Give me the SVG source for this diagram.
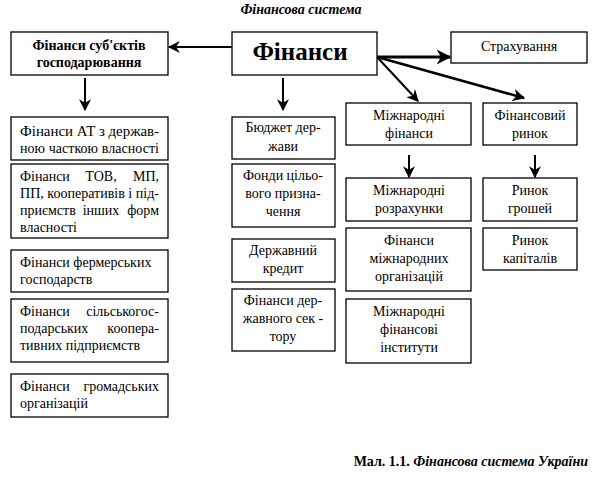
<svg xmlns="http://www.w3.org/2000/svg" width="594" height="483" viewBox="0 0 594 483">
<defs>
<style>
text{font-family:"Liberation Serif","Times New Roman",serif}
.box{fill:#fff;stroke:#000;stroke-width:1.3}
.t{font-size:14px;fill:#000}
.c{text-anchor:middle}
.e{text-anchor:end}
.b{font-weight:bold}
.bi{font-weight:bold;font-style:italic}
.ln{stroke:#000;stroke-width:2;fill:none}
</style>
<marker id="ah" viewBox="0 0 10 10" refX="9" refY="5" markerWidth="6" markerHeight="6" orient="auto" markerUnits="strokeWidth">
<path d="M0,0 L10,5 L0,10 L3,5 z" fill="#000"/>
</marker>
<marker id="ah3" viewBox="0 0 10 10" refX="9" refY="5" markerWidth="5" markerHeight="5" orient="auto" markerUnits="strokeWidth">
<path d="M0,0 L10,5 L0,10 L3,5 z" fill="#000"/>
</marker>
</defs>
<rect width="594" height="483" fill="#fff"/>
<text class="t bi c" x="301" y="14">Фінансова система</text>

<g id="connectors">
<line class="ln" x1="232" y1="47" x2="169" y2="47" marker-end="url(#ah)"/>
<line class="ln" x1="377" y1="57" x2="450" y2="57" marker-end="url(#ah3)" style="stroke-width:3"/>
<line class="ln" x1="377" y1="57" x2="418" y2="101" marker-end="url(#ah)"/>
<line class="ln" x1="377" y1="57" x2="524" y2="98" marker-end="url(#ah3)" style="stroke-width:2.5"/>
<line class="ln" x1="85" y1="78" x2="85" y2="110" marker-end="url(#ah)"/>
<line class="ln" x1="283" y1="78" x2="283" y2="110" marker-end="url(#ah)"/>
<line class="ln" x1="409" y1="155" x2="409" y2="177" marker-end="url(#ah)"/>
<line class="ln" x1="535" y1="155" x2="535" y2="177" marker-end="url(#ah)"/>
</g>

<g id="n-subj"><rect class="box" x="11" y="32" width="157" height="43"/>
<text class="t b c" x="89" y="50">Фінанси суб'єктів</text>
<text class="t b c" x="89" y="67">господарювання</text></g>

<g id="n-fin"><rect class="box" x="232" y="32" width="145" height="43"/>
<text class="t b c" x="300" y="60" style="font-size:25px">Фінанси</text></g>

<g id="n-strah"><rect class="box" x="451" y="32" width="136" height="31"/>
<text class="t c" x="519" y="51">Страхування</text></g>

<g id="n-l1"><rect class="box" x="11" y="117" width="157" height="43"/>
<text class="t" x="20" y="136" textLength="139" lengthAdjust="spacingAndGlyphs">Фінанси АТ з держав-</text>
<text class="t" x="20" y="153" textLength="139" lengthAdjust="spacing">ною часткою власності</text></g>

<g id="n-l2"><rect class="box" x="11" y="164" width="157" height="74"/>
<text class="t" x="20" y="181">Фінанси</text><text class="t c" x="101" y="181">ТОВ,</text><text class="t e" x="159" y="181">МП,</text>
<text class="t" x="20" y="198" textLength="139" lengthAdjust="spacingAndGlyphs">ПП, кооперативів і під-</text>
<text class="t" x="20" y="215">приємств</text><text class="t c" x="101" y="215">інших</text><text class="t e" x="159" y="215">форм</text>
<text class="t" x="20" y="232">власності</text></g>

<g id="n-l3"><rect class="box" x="11" y="250" width="157" height="42"/>
<text class="t" x="20" y="267">Фінанси фермерських</text>
<text class="t" x="20" y="284">господарств</text></g>

<g id="n-l4"><rect class="box" x="11" y="299" width="157" height="63"/>
<text class="t" x="20" y="316">Фінанси</text><text class="t e" x="159" y="316">сільськогос-</text>
<text class="t" x="20" y="333">подарських</text><text class="t e" x="159" y="333">коопера-</text>
<text class="t" x="20" y="350">тивних підприємств</text></g>

<g id="n-l5"><rect class="box" x="11" y="374" width="157" height="43"/>
<text class="t" x="20" y="391">Фінанси</text><text class="t e" x="159" y="391">громадських</text>
<text class="t" x="20" y="408">організацій</text></g>

<g id="n-m1"><rect class="box" x="232" y="117" width="103" height="42"/>
<text class="t c" x="283" y="132">Бюджет дер-</text>
<text class="t c" x="283" y="151">жави</text></g>

<g id="n-m2"><rect class="box" x="232" y="164" width="103" height="63"/>
<text class="t c" x="283" y="180">Фонди цільо-</text>
<text class="t c" x="283" y="198">вого призна-</text>
<text class="t c" x="283" y="216">чення</text></g>

<g id="n-m3"><rect class="box" x="232" y="239" width="103" height="43"/>
<text class="t c" x="283" y="255">Державний</text>
<text class="t c" x="283" y="273">кредит</text></g>

<g id="n-m4"><rect class="box" x="232" y="289" width="103" height="62"/>
<text class="t c" x="283" y="305">Фінанси дер-</text>
<text class="t c" x="283" y="323">жавного сек -</text>
<text class="t c" x="283" y="341">тору</text></g>

<g id="n-r1"><rect class="box" x="346" y="103" width="125" height="42"/>
<text class="t c" x="409" y="120">Міжнародні</text>
<text class="t c" x="409" y="138">фінанси</text></g>

<g id="n-r2"><rect class="box" x="483" y="103" width="94" height="42"/>
<text class="t c" x="530" y="120">Фінансовий</text>
<text class="t c" x="530" y="138">ринок</text></g>

<g id="n-r3"><rect class="box" x="346" y="178" width="125" height="43"/>
<text class="t c" x="409" y="195">Міжнародні</text>
<text class="t c" x="409" y="213">розрахунки</text></g>

<g id="n-r4"><rect class="box" x="346" y="228" width="125" height="63"/>
<text class="t c" x="409" y="245">Фінанси</text>
<text class="t c" x="409" y="263">міжнародних</text>
<text class="t c" x="409" y="281">організацій</text></g>

<g id="n-r5"><rect class="box" x="346" y="299" width="125" height="64"/>
<text class="t c" x="409" y="316">Міжнародні</text>
<text class="t c" x="409" y="334">фінансові</text>
<text class="t c" x="409" y="352">інститути</text></g>

<g id="n-r6"><rect class="box" x="483" y="178" width="94" height="43"/>
<text class="t c" x="530" y="195">Ринок</text>
<text class="t c" x="530" y="213">грошей</text></g>

<g id="n-r7"><rect class="box" x="483" y="228" width="94" height="42"/>
<text class="t c" x="530" y="245">Ринок</text>
<text class="t c" x="530" y="263">капіталів</text></g>

<text class="t b e" x="588" y="466">Мал. 1.1. <tspan class="bi">Фінансова система України</tspan></text>
</svg>
